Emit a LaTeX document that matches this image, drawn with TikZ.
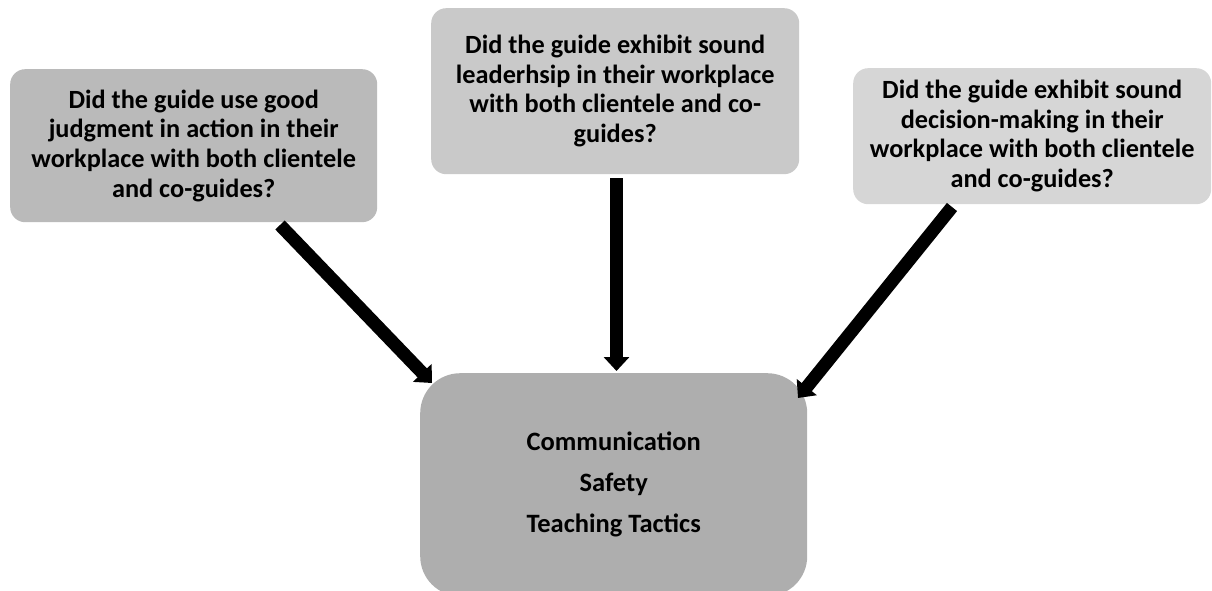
\documentclass[tikz,border=0pt]{standalone}
\usepackage{fontspec}
\setmainfont{Carlito}
\usetikzlibrary{arrows.meta}

\definecolor{boxA}{RGB}{186,186,186}
\definecolor{boxB}{RGB}{201,201,201}
\definecolor{boxC}{RGB}{214,214,214}
\definecolor{boxD}{RGB}{174,174,174}

\tikzset{
  question/.style={rectangle, rounded corners=15pt, inner sep=0pt, anchor=north west,
    align=center, font=\bfseries\fontsize{26.3}{29.6}\selectfont},
  target/.style={rectangle, rounded corners=40pt, inner sep=0pt, anchor=north west,
    fill=boxD, align=center, font=\bfseries\fontsize{26.5}{29.6}\selectfont},
  bigarrow/.style={line width=13pt, -{Triangle[width=25pt,length=14pt]}},
}

\begin{document}
\begin{tikzpicture}[x=1pt, y=-1pt]
  \useasboundingbox (0,0) rectangle (1212,591);

  % question boxes
  \node[question, fill=boxA, minimum width=367pt, minimum height=153pt] (q1) at (10,69)
    {Did the guide use good\\judgment in action in their\\workplace with both clientele\\and co-guides?};
  \node[question, fill=boxB, minimum width=368pt, minimum height=166pt] (q2) at (431,8)
    {Did the guide exhibit sound\\leaderhsip in their workplace\\with both clientele and co-\\guides?};
  \node[question, fill=boxC, minimum width=358pt, minimum height=136pt] (q3) at (853,68)
    {Did the guide exhibit sound\\decision-making in their\\workplace with both clientele\\and co-guides?};

  % summary box
  \node[target, minimum width=387pt, minimum height=223pt] (sum) at (420,373)
    {Communication\\[11.5pt]Safety\\[11.5pt]Teaching Tactics};

  % arrow ends
  \coordinate (s1) at (280,225);
  \coordinate (t1) at (432,383);
  \coordinate (s2) at (616.5,178);
  \coordinate (t2) at (616.5,371);
  \coordinate (s3) at (952,207);
  \coordinate (t3) at (798,398);

  \draw[bigarrow] (s1) -- (t1);
  \draw[bigarrow] (s2) -- (t2);
  \draw[bigarrow] (s3) -- (t3);
\end{tikzpicture}
\end{document}
